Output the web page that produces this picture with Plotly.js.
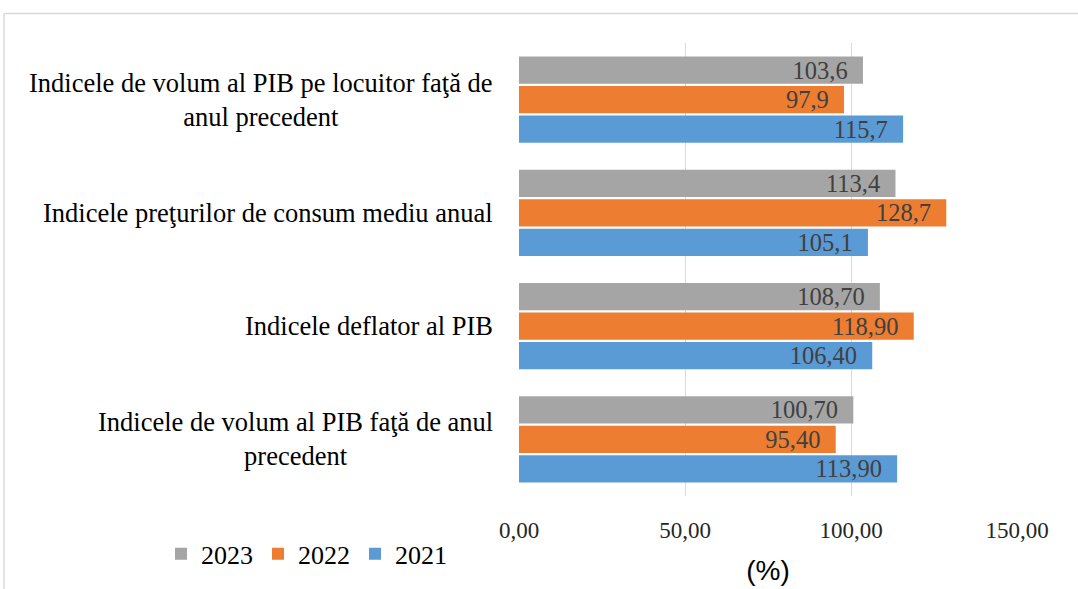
<!DOCTYPE html>
<html>
<head>
<meta charset="utf-8">
<script src="https://cdn.plot.ly/plotly-3.0.1.min.js"></script>
<style>html,body{margin:0;padding:0;background:#fff}#chart{width:1078px;height:589px}</style>
</head>
<body>
<div id="chart"></div>
<script>
// Categories listed bottom to top
const categories = [
  "Indicele de volum al PIB faţă de anul<br>precedent",
  "Indicele deflator al PIB",
  "Indicele preţurilor de consum mediu anual",
  "Indicele de volum al PIB pe locuitor faţă de<br>anul precedent"
];
const decimals = [2, 2, 1, 1];
const series2021 = [113.9, 106.4, 105.1, 115.7];
const series2022 = [95.4, 118.9, 128.7, 97.9];
const series2023 = [100.7, 108.7, 113.4, 103.6];
const seriesNames = ["2021", "2022", "2023"];
const colors = ["#5b9bd5", "#ed7d31", "#a5a5a5"];
const xTicks = [0, 50, 100, 150];

const fmt = (v, d) => v.toFixed(d).replace('.', ',');
const serif = "Liberation Serif, Times New Roman, serif";

const allSeries = [series2021, series2022, series2023];
const traces = allSeries.map((vals, i) => ({
  type: 'bar',
  orientation: 'h',
  name: seriesNames[i],
  y: categories,
  x: vals,
  marker: {color: colors[i]},
  text: vals.map((v, k) => fmt(v, decimals[k])),
  texttemplate: '%{text}\u00a0\u00a0',
  textposition: 'inside',
  insidetextanchor: 'end',
  constraintext: 'none',
  textfont: {family: serif, size: 24.5, color: '#404040'},
  hoverinfo: 'x+name'
}));

// plot area pixel geometry helpers for frame lines
const L = 519, R = 61, T = 43, B = 86, W = 1078, H = 589;
const pw = W - L - R, ph = H - T - B;
const px = x => (x - L) / pw;
const py = y => (H - B - y) / ph;

const annotations = categories.map(c => ({
  xref: 'paper', yref: 'y', x: 0, y: c,
  xanchor: 'right', yanchor: 'middle', xshift: -24,
  text: c, showarrow: false, align: 'center',
  font: {family: serif, size: 26.5, color: '#000000'}
}));

const layout = {
  width: W, height: H,
  margin: {l: L, r: R, t: T, b: B},
  paper_bgcolor: '#ffffff', plot_bgcolor: '#ffffff',
  separators: ', ',
  barmode: 'group',
  bargap: 0.22,
  bargroupgap: 0.07,
  uniformtext: {minsize: 24, mode: 'show'},
  showlegend: true,
  legend: {
    orientation: 'h', traceorder: 'reversed',
    x: px(161), xanchor: 'left', y: py(538), yanchor: 'top',
    font: {family: serif, size: 26, color: '#000000'},
    itemwidth: 30, tracegroupgap: 0
  },
  xaxis: {
    range: [0, 150],
    tickvals: xTicks,
    tickformat: '.2f',
    showgrid: true, gridcolor: '#d9d9d9', gridwidth: 1,
    zeroline: false, showline: false, ticks: '',
    ticklabelstandoff: 18,
    tickfont: {family: serif, size: 23, color: '#262626'},
    title: {text: '(%)', font: {family: 'Liberation Sans, Arial, sans-serif', size: 28, color: '#000000'}, standoff: 18},
    fixedrange: true
  },
  yaxis: {
    type: 'category',
    showticklabels: false,
    showgrid: false, zeroline: false, showline: false, ticks: '',
    fixedrange: true
  },
  annotations: annotations,
  shapes: [
    {type: 'line', xref: 'paper', yref: 'paper', x0: px(4), x1: px(1100), y0: py(13), y1: py(13), line: {color: '#d9d9d9', width: 1.5}},
    {type: 'line', xref: 'paper', yref: 'paper', x0: px(4), x1: px(4), y0: py(13), y1: py(600), line: {color: '#d9d9d9', width: 1.5}}
  ]
};

Plotly.newPlot('chart', traces, layout, {displayModeBar: false, staticPlot: true});
</script>
</body>
</html>
